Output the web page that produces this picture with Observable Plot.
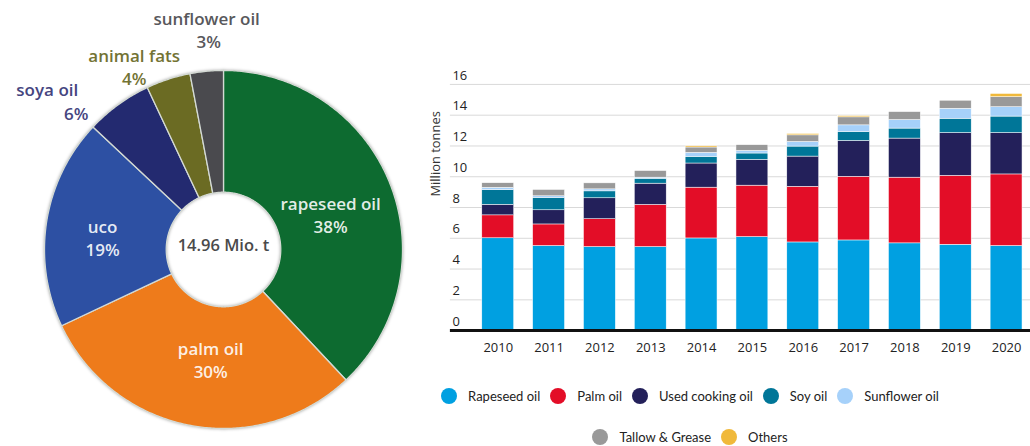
<!DOCTYPE html>
<html>
<head>
<meta charset="utf-8">
<script src="https://cdn.jsdelivr.net/npm/d3@7"></script>
<script src="https://cdn.jsdelivr.net/npm/@observablehq/plot@0.6"></script>
<style>
  html, body { margin: 0; padding: 0; background: #ffffff; }
  #page { position: relative; width: 1030px; height: 446px; overflow: hidden; background: #ffffff; }
  #pie { position: absolute; left: 0; top: 0; }
  #bars { position: absolute; left: 420px; top: 60px; }
  #legend {
    position: absolute; left: 420px; top: 388px; width: 540px;
    display: flex; flex-wrap: wrap; justify-content: center; row-gap: 25px;
    font-family: Lato, "Open Sans", sans-serif; font-size: 13px; color: #222;
  }
  .item { display: flex; align-items: center; height: 16px; margin: 0 5px; }
  .dot { width: 16px; height: 16px; border-radius: 50%; margin-right: 11px; }
</style>
</head>
<body>
<div id="page">
  <div id="pie"></div>
  <div id="bars"></div>
  <div id="legend"></div>
</div>
<script>
// ---- Feedstock shares (donut) ----
const pieNames  = ["rapeseed oil", "palm oil", "uco", "soya oil", "animal fats", "sunflower oil"];
const pieShares = [38, 30, 19, 6, 4, 3];
const pieColors = ["#0d6b30", "#ee7b1b", "#2d50a3", "#232a70", "#6b6b23", "#4a4a4e"];
const pieTotal  = "14.96 Mio. t";

// ---- Feedstock use by year (stacked bars, million tonnes) ----
const years         = ["2010", "2011", "2012", "2013", "2014", "2015", "2016", "2017", "2018", "2019", "2020"];
const rapeseedOil   = [6.00, 5.50, 5.43, 5.43, 5.99, 6.08, 5.73, 5.86, 5.67, 5.58, 5.50];
const palmOil       = [1.49, 1.40, 1.81, 2.74, 3.30, 3.34, 3.62, 4.14, 4.27, 4.48, 4.65];
const usedCooking   = [0.69, 0.92, 1.36, 1.38, 1.57, 1.68, 1.96, 2.33, 2.54, 2.78, 2.69];
const soyOil        = [0.95, 0.80, 0.45, 0.32, 0.43, 0.41, 0.65, 0.58, 0.65, 0.93, 1.07];
const sunflowerOil  = [0.15, 0.11, 0.13, 0.07, 0.26, 0.17, 0.30, 0.43, 0.56, 0.65, 0.61];
const tallowGrease  = [0.30, 0.41, 0.39, 0.43, 0.35, 0.37, 0.43, 0.52, 0.51, 0.52, 0.65];
const others        = [0.00, 0.00, 0.00, 0.00, 0.08, 0.00, 0.09, 0.08, 0.00, 0.00, 0.21];
const seriesNames   = ["Rapeseed oil", "Palm oil", "Used cooking oil", "Soy oil", "Sunflower oil", "Tallow & Grease", "Others"];
const seriesColors  = ["#00a0e1", "#e30d27", "#23205a", "#007698", "#a6d1fa", "#999999", "#f0b93b"];
const yTicks        = [0, 2, 4, 6, 8, 10, 12, 14, 16];

// ===== Donut =====
const R_IN = 0.32;           // hole radius relative to the outer radius
const pieRows = pieNames.map((name, i) => ({name, share: pieShares[i]}));
const arcs = d3.pie().sort(null).value(d => d.share)(pieRows);

// outline of every slice: outer arc forward, inner arc back
const slicePts = [];
for (const a of arcs) {
  const n = Math.max(2, Math.ceil((a.endAngle - a.startAngle) / 0.01));
  for (let k = 0; k <= n; k++) {
    const t = a.startAngle + (a.endAngle - a.startAngle) * k / n;
    slicePts.push({name: a.data.name, x: Math.sin(t), y: Math.cos(t)});
  }
  for (let k = n; k >= 0; k--) {
    const t = a.startAngle + (a.endAngle - a.startAngle) * k / n;
    slicePts.push({name: a.data.name, x: R_IN * Math.sin(t), y: R_IN * Math.cos(t)});
  }
}

// labels placed along each slice's mid angle
const inside = new Set(["rapeseed oil", "palm oil", "uco"]);
const nudge = {
  "rapeseed oil":  {dx: -1,  dy: 7},
  "palm oil":      {dx: 9,   dy: -5},
  "uco":           {dx: -6,  dy: 6},
  "soya oil":      {name: {dx: -71, dy: -14}, pct: {dx: -42, dy: 10}, fill: "#45457f"},
  "animal fats":   {name: {dx: -34, dy: -23}, pct: {dx: -34, dy: 0},  fill: "#737334"},
  "sunflower oil": {name: {dx: 0,   dy: -52}, pct: {dx: 2,   dy: -29}, fill: "#58585c"}
};
const labelMarks = [];
for (const a of arcs) {
  const mid = (a.startAngle + a.endAngle) / 2;
  const name = a.data.name, pct = `${a.data.share}%`;
  if (inside.has(name)) {
    const r = 0.65;
    labelMarks.push(Plot.text([{x: r * Math.sin(mid), y: r * Math.cos(mid), t: `${name}\n${pct}`}], {
      x: "x", y: "y", text: "t", fill: "#ffffff", fillOpacity: 0.9,
      fontSize: 17, fontWeight: 600, lineHeight: 1.36,
      dx: nudge[name].dx, dy: nudge[name].dy
    }));
  } else {
    const p = {x: Math.sin(mid), y: Math.cos(mid)};
    const o = nudge[name];
    labelMarks.push(Plot.text([p], {x: "x", y: "y", text: () => name, fill: o.fill,
      fontSize: 17, fontWeight: 600, dx: o.name.dx, dy: o.name.dy}));
    labelMarks.push(Plot.text([p], {x: "x", y: "y", text: () => pct, fill: o.fill,
      fontSize: 17, fontWeight: 600, dx: o.pct.dx, dy: o.pct.dy}));
  }
}

const pie = Plot.plot({
  width: 450, height: 446,
  marginLeft: 44, marginRight: 48, marginTop: 70, marginBottom: 18,
  x: {domain: [-1, 1], axis: null},
  y: {domain: [-1, 1], axis: null},
  color: {domain: pieNames, range: pieColors},
  style: {fontFamily: "'Open Sans', sans-serif", background: "transparent", overflow: "visible"},
  marks: [
    Plot.line(slicePts, {x: "x", y: "y", z: "name", fill: "name", stroke: "#d4dad4",
      strokeWidth: 1.3, curve: "linear-closed",
      imageFilter: "drop-shadow(0 0 1.5px rgba(0,0,0,0.3))"}),
    ...labelMarks,
    Plot.text([pieTotal], {x: () => 0, y: () => 0, text: d => d, fill: "#4a4a4a",
      fontSize: 16.5, fontWeight: 600, dy: -4})
  ]
});
document.getElementById("pie").appendChild(pie);

// ===== Stacked bars =====
const seriesValues = [rapeseedOil, palmOil, usedCooking, soyOil, sunflowerOil, tallowGrease, others];
const barRows = [];
seriesNames.forEach((s, i) => {
  years.forEach((yr, j) => {
    const v = seriesValues[i][j];
    if (v > 0) barRows.push({year: yr, series: s, value: v});
  });
});

const bars = Plot.plot({
  width: 612, height: 300,
  marginLeft: 53, marginRight: 0, marginTop: 24, marginBottom: 29,
  x: {type: "band", domain: years, paddingInner: 0.38, paddingOuter: 0.1, label: null},
  y: {domain: [0, 16], label: null},
  color: {domain: seriesNames, range: seriesColors},
  style: {fontFamily: "'Open Sans', sans-serif", fontSize: "13px", color: "#222", background: "transparent", overflow: "visible"},
  marks: [
    Plot.ruleY(yTicks.filter(d => d > 0), {stroke: "#d9d9d9", strokeWidth: 1, insetLeft: -23}),
    Plot.barY(barRows, {x: "year", y: "value", fill: "series", stroke: "#ffffff", strokeWidth: 0.5}),
    Plot.ruleY([0], {stroke: "#111111", strokeWidth: 3, insetLeft: -23}),
    Plot.axisY(yTicks, {anchor: "left", tickSize: 0, tickPadding: 0, textAnchor: "start",
      dx: -21, dy: -9, label: null, fontSize: 13}),
    Plot.axisX({tickSize: 0, tickPadding: 12, label: null, fontSize: 13}),
    Plot.text(["Million tonnes"], {frameAnchor: "left", text: d => d, rotate: -90,
      dx: -38, dy: -11, fontSize: 13, fill: "#333"})
  ]
});
document.getElementById("bars").appendChild(bars);

// ===== Legend =====
const legend = document.getElementById("legend");
seriesNames.forEach((s, i) => {
  const item = document.createElement("div");
  item.className = "item";
  const dot = document.createElement("span");
  dot.className = "dot";
  dot.style.background = seriesColors[i];
  const label = document.createElement("span");
  label.textContent = s;
  item.appendChild(dot);
  item.appendChild(label);
  legend.appendChild(item);
});
</script>
</body>
</html>
